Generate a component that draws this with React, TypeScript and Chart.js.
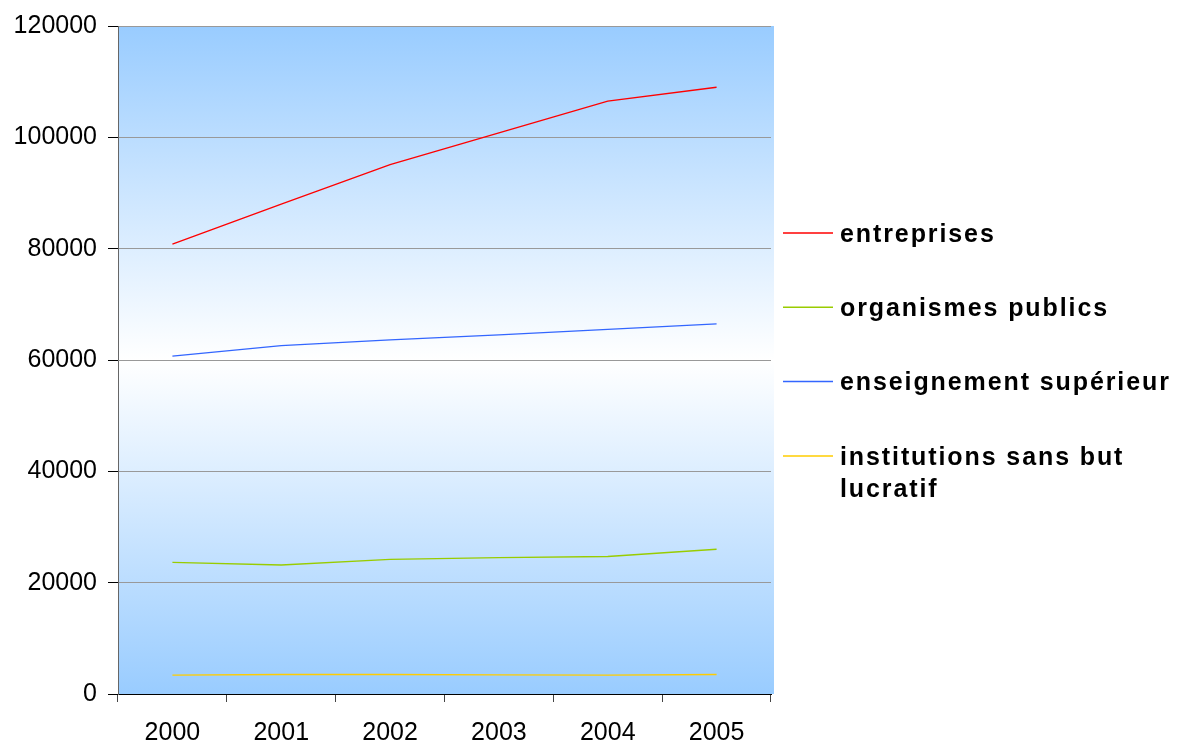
import { useEffect, useRef } from 'react';
import { Chart, registerables } from 'chart.js';

Chart.register(...registerables);

const FONT = '"Liberation Sans", Arial, Helvetica, sans-serif';

const years = ['2000', '2001', '2002', '2003', '2004', '2005'];
const entreprises = [80800, 88000, 95100, 100800, 106500, 109000];
const organismesPublics = [23650, 23170, 24200, 24500, 24700, 26000];
const enseignementSuperieur = [60700, 62600, 63600, 64500, 65500, 66500];
const institutionsSansBut = [3400, 3500, 3500, 3450, 3400, 3500];

const seriesNames = ['entreprises', 'organismes publics', 'enseignement supérieur', 'institutions sans but lucratif'];
const seriesColors = ['#FF0000', '#99CC00', '#3366FF', '#FFCC00'];
const seriesValues = [entreprises, organismesPublics, enseignementSuperieur, institutionsSansBut];

const yTicks = [0, 20000, 40000, 60000, 80000, 100000, 120000];

export default function App() {
  const ref = useRef<HTMLCanvasElement>(null);

  useEffect(() => {
    if (!ref.current) return;

    const bgPlugin = {
      id: 'plotBg',
      beforeDraw(chart: any) {
        const { ctx, chartArea: a } = chart;
        const g = ctx.createLinearGradient(0, a.top, 0, a.bottom);
        g.addColorStop(0, '#99CCFF');
        g.addColorStop(0.5, '#FFFFFF');
        g.addColorStop(1, '#99CCFF');
        ctx.save();
        ctx.fillStyle = g;
        ctx.fillRect(a.left, a.top, a.right - a.left + 3, a.bottom - a.top);
        ctx.restore();
      },
    };

    const legendPlugin = {
      id: 'sideLegend',
      afterDraw(chart: any) {
        const { ctx, chartArea: a, width } = chart;
        const lineX0 = a.right + 12;
        const lineX1 = a.right + 62;
        const textX = a.right + 69;
        const startY = 233;
        const step = 74.3;
        const lineH = 32;
        ctx.save();
        ctx.font = `bold 25px ${FONT}`;
        (ctx as any).letterSpacing = '1.9px';
        ctx.textBaseline = 'middle';
        ctx.textAlign = 'left';
        const maxW = width - textX - 4;
        chart.data.datasets.forEach((ds: any, i: number) => {
          const y = startY + i * step;
          ctx.strokeStyle = ds.borderColor;
          ctx.lineWidth = 1.5;
          ctx.beginPath();
          ctx.moveTo(lineX0, y);
          ctx.lineTo(lineX1, y);
          ctx.stroke();
          const words = String(ds.label).split(' ');
          const lines: string[] = [];
          let cur = '';
          for (const w of words) {
            const test = cur ? cur + ' ' + w : w;
            if (cur && ctx.measureText(test).width > maxW) {
              lines.push(cur);
              cur = w;
            } else {
              cur = test;
            }
          }
          if (cur) lines.push(cur);
          ctx.fillStyle = '#000000';
          lines.forEach((ln, j) => {
            ctx.fillText(ln, textX, y + 2 + j * lineH);
          });
        });
        ctx.restore();
      },
    };

    const chart = new Chart(ref.current, {
      type: 'line',
      data: {
        labels: years,
        datasets: seriesNames.map((name, i) => ({
          label: name,
          data: seriesValues[i],
          borderColor: seriesColors[i],
          backgroundColor: seriesColors[i],
          borderWidth: 1.3,
          pointRadius: 0,
          pointHoverRadius: 0,
          tension: 0,
          fill: false,
        })),
      },
      options: {
        animation: false,
        responsive: true,
        maintainAspectRatio: false,
        layout: { padding: { left: 0, top: 26, right: 410, bottom: 0 } },
        plugins: {
          legend: { display: false },
          tooltip: { enabled: false },
          title: { display: false },
        },
        scales: {
          x: {
            type: 'category',
            offset: true,
            afterFit: (s: any) => { s.height = 52; },
            grid: {
              offset: true,
              drawOnChartArea: false,
              drawTicks: true,
              tickLength: 8,
              tickColor: '#444444',
            },
            border: { color: '#000000', width: 1 },
            ticks: {
              color: '#000000',
              font: { family: FONT, size: 25 },
              padding: 16,
              maxRotation: 0,
            },
          },
          y: {
            min: 0,
            max: 120000,
            afterFit: (s: any) => { s.width = 118; },
            afterBuildTicks: (s: any) => { s.ticks = yTicks.map((v) => ({ value: v })); },
            grid: {
              color: '#999999',
              lineWidth: 1,
              tickLength: 10,
              tickColor: '#000000',
            },
            border: { color: '#666666', width: 1 },
            ticks: {
              color: '#000000',
              font: { family: FONT, size: 25 },
              padding: 11,
              callback: (v: any) => String(v),
            },
          },
        },
      },
      plugins: [bgPlugin, legendPlugin],
    });

    return () => chart.destroy();
  }, []);

  return (
    <div style={{ position: 'fixed', left: 0, top: 0, width: 1181, height: 746, background: '#ffffff' }}>
      <canvas ref={ref} />
    </div>
  );
}
